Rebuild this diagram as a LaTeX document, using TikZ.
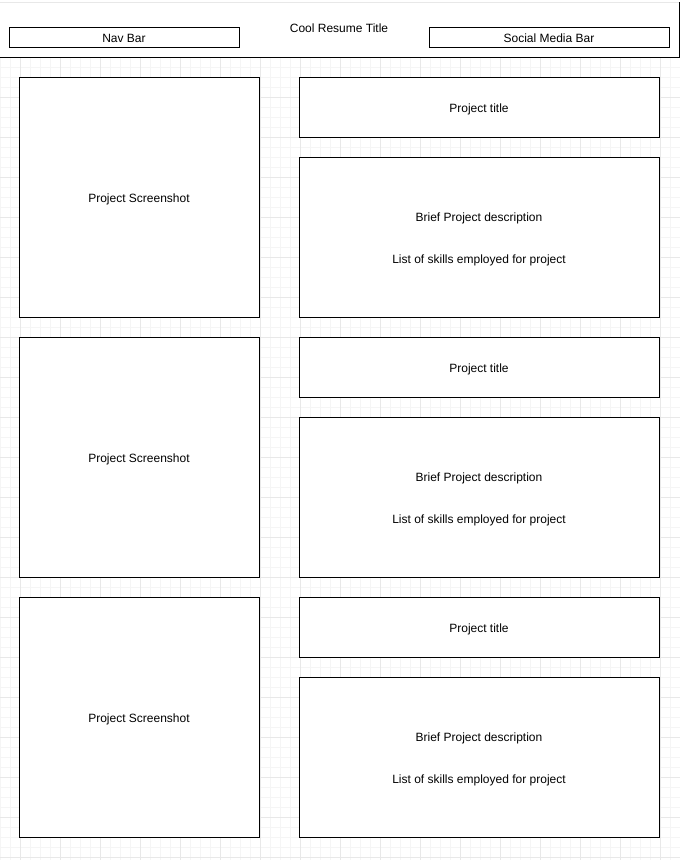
\documentclass[tikz,border=0pt]{standalone}
\usepackage{fontspec}
\setmainfont{Liberation Sans}
\usepackage{xcolor}
\usepackage{tikz}
\usetikzlibrary{positioning}

\definecolor{minorgrid}{HTML}{F5F5F5}
\definecolor{majorgrid}{HTML}{E8E8E8}

\newcommand{\descstrut}{\rule{0pt}{10pt}}

\tikzset{
  box/.style={draw, line width=0.75pt, fill=white, inner sep=0pt, outer sep=0pt,
    font=\fontsize{9pt}{11pt}\selectfont, align=center},
  bar/.style={box, minimum height=15pt, text height=8pt, text depth=0pt},
  shotbox/.style={box, anchor=north west, minimum width=180pt, minimum height=180pt,
    text height=8pt, text depth=0pt},
  titlebox/.style={box, anchor=north west, minimum width=270pt, minimum height=45pt,
    text height=8pt, text depth=0pt},
  descbox/.style={box, minimum width=270pt, minimum height=120pt},
}

\begin{document}
\begin{tikzpicture}[x=0.75pt, y=-0.75pt]
\useasboundingbox (0,0) rectangle (680,860);

% background grid
\foreach \gx in {0,10,...,680} \draw[minorgrid, line width=0.75pt] (\gx,57) -- (\gx,860);
\foreach \gy in {67,77,...,857} \draw[minorgrid, line width=0.75pt] (0,\gy) -- (680,\gy);
\foreach \gx in {20,60,...,660} \draw[majorgrid, line width=0.75pt] (\gx,57) -- (\gx,860);
\foreach \gy in {97,137,...,857} \draw[majorgrid, line width=0.75pt] (0,\gy) -- (680,\gy);

% header
\node[box, anchor=north west, minimum width=510pt, minimum height=41.25pt] (header) at (-1,2) {};
\draw[majorgrid, line width=0.75pt] (header.north west) -- (header.north east);
\node[font=\fontsize{9pt}{11pt}\selectfont, text height=6.5pt, text depth=0pt] (cooltitle) at (339,28) {Cool Resume Title};
\node[bar, anchor=north west, minimum width=172.5pt] (navbar) at (9,27) {Nav Bar};
\node[bar, anchor=north west, minimum width=180pt] (socialbar) at (429,27) {Social Media Bar};

% project rows
\node[shotbox] (shot1) at (19,77) {Project Screenshot};
\node[titlebox] (title1) at (299,77) {Project title};
\node[descbox, below=15pt of title1] (desc1) {\descstrut Brief Project description\\[20.5pt]List of skills employed for project};

\node[shotbox] (shot2) at (19,337) {Project Screenshot};
\node[titlebox] (title2) at (299,337) {Project title};
\node[descbox, below=15pt of title2] (desc2) {\descstrut Brief Project description\\[20.5pt]List of skills employed for project};

\node[shotbox] (shot3) at (19,597) {Project Screenshot};
\node[titlebox] (title3) at (299,597) {Project title};
\node[descbox, below=15pt of title3] (desc3) {\descstrut Brief Project description\\[20.5pt]List of skills employed for project};
\end{tikzpicture}
\end{document}
